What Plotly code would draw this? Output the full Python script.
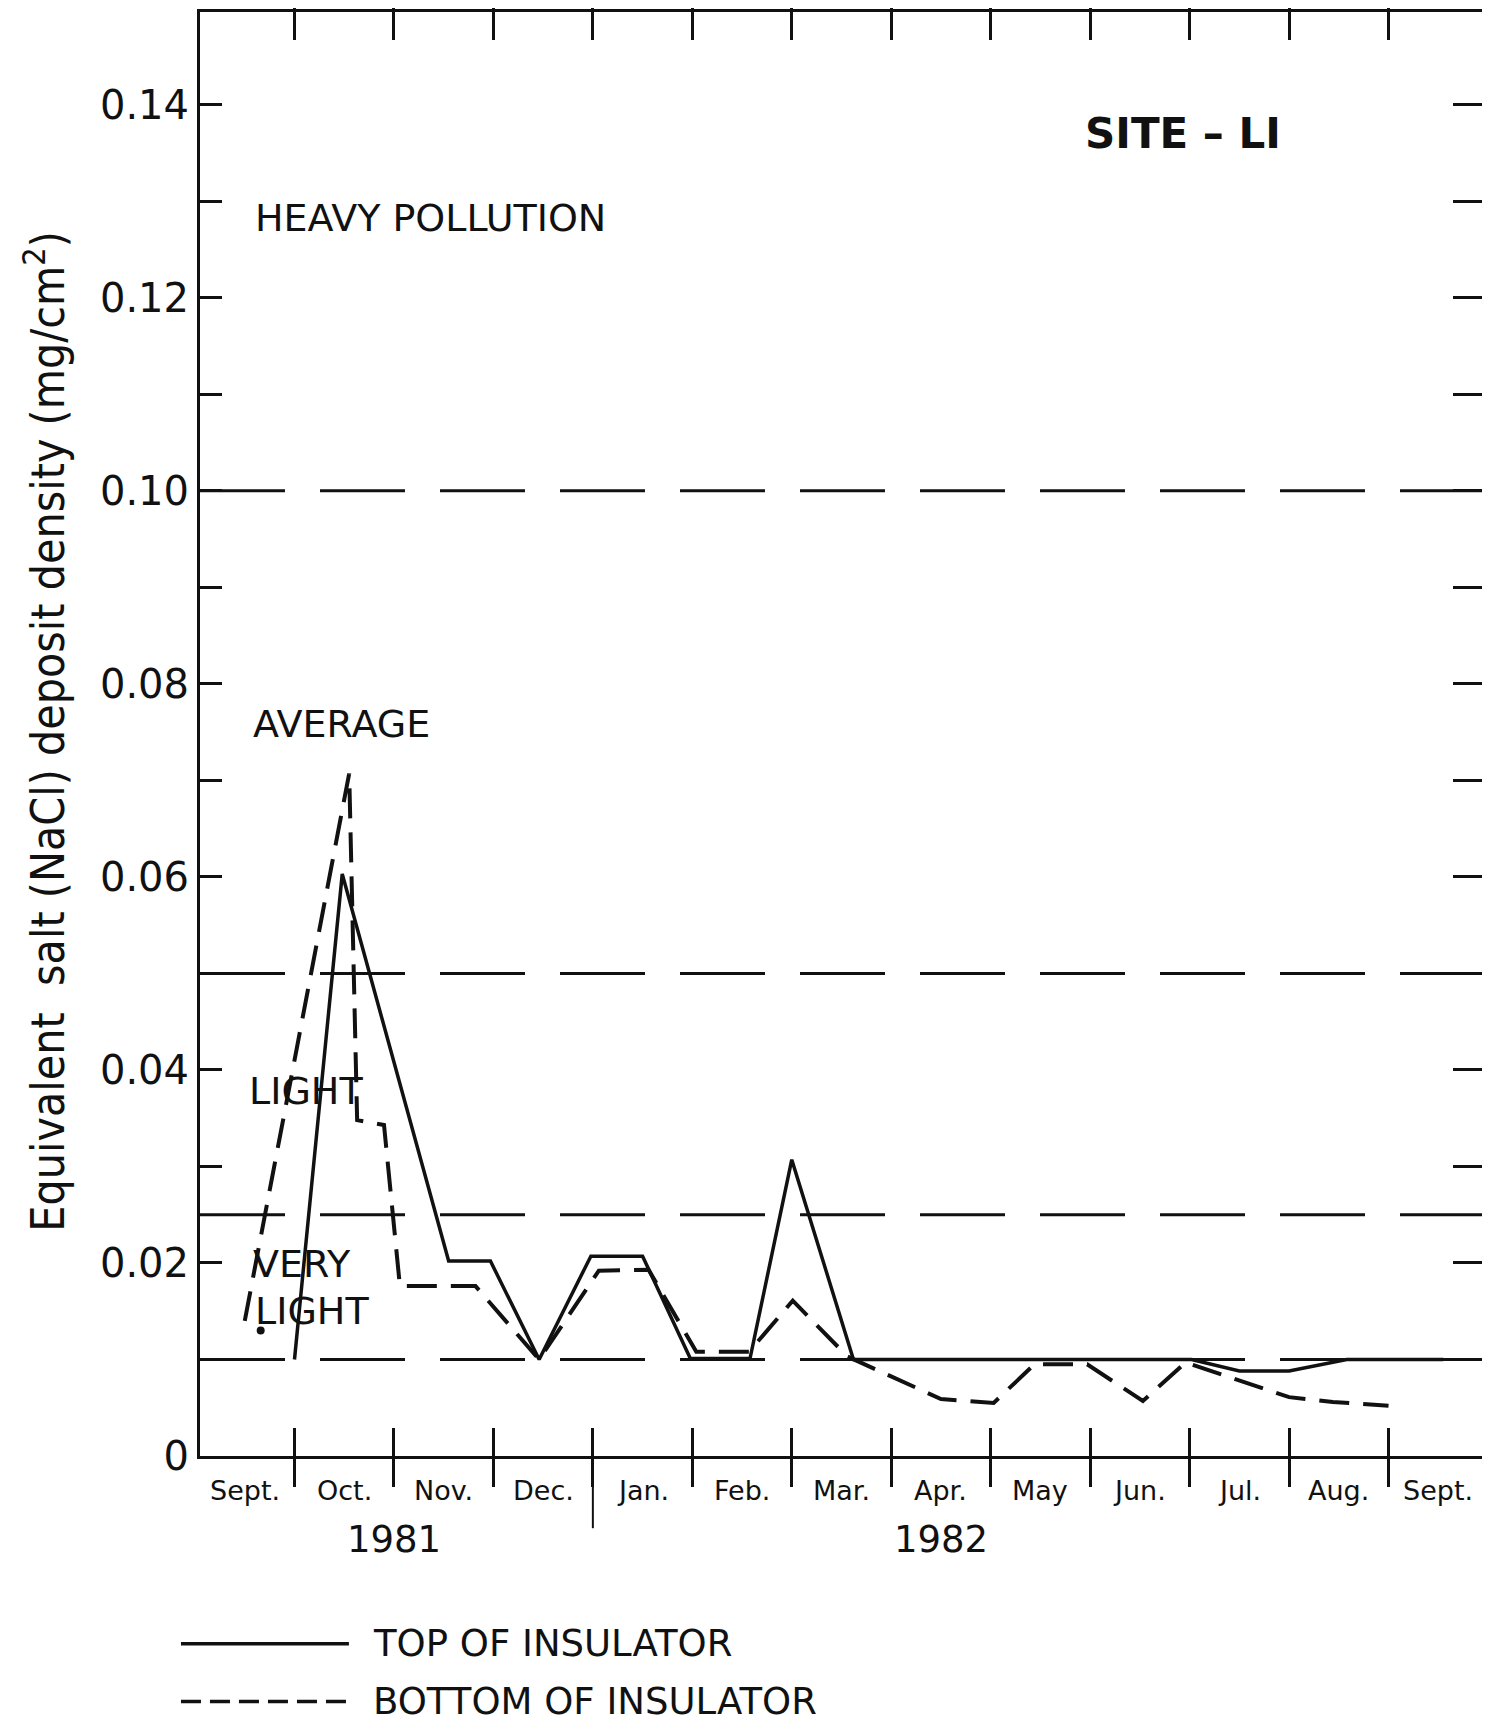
import plotly.graph_objects as go

# ---------------- data ----------------
# x = months counted from 1 Oct 1981 (tick marks at month boundaries)
month_labels = ["Sept.", "Oct.", "Nov.", "Dec.", "Jan.", "Feb.", "Mar.",
                "Apr.", "May", "Jun.", "Jul.", "Aug.", "Sept."]
month_centers = [-0.5, 0.5, 1.5, 2.5, 3.5, 4.5, 5.5, 6.5, 7.5, 8.5, 9.5, 10.5, 11.5]
month_boundaries = [0, 1, 2, 3, 4, 5, 6, 7, 8, 9, 10, 11]
year_labels = ["1981", "1982"]
year_centers = [1.0, 6.5]
year_divider = [3]

top_x = [0.00, 0.48, 1.55, 1.97, 2.46, 2.98, 3.50, 3.98, 4.58, 5.00, 5.62,
         9.02, 9.50, 10.00, 10.58, 11.55]
top_y = [0.0100, 0.0603, 0.0202, 0.0202, 0.0100, 0.0207, 0.0207, 0.0101, 0.0101,
         0.0307, 0.0100, 0.0100, 0.0088, 0.0088, 0.0100, 0.0100]

bottom_x = [-0.50, 0.55, 0.63, 0.90, 1.06, 1.82, 2.46, 3.06, 3.56, 4.04, 4.57,
            5.01, 5.56, 6.50, 7.03, 7.44, 7.97, 8.53, 8.96, 10.00, 10.44, 11.00]
bottom_y = [0.0140, 0.0707, 0.0348, 0.0343, 0.0176, 0.0176, 0.0100, 0.0192, 0.0193,
            0.0108, 0.0108, 0.0161, 0.0103, 0.0059, 0.0055, 0.0095, 0.0095, 0.0057,
            0.0097, 0.0061, 0.0056, 0.0052]

dot_x = [-0.34]
dot_y = [0.0130]

threshold_levels = [0.10, 0.05, 0.025, 0.01]
zone_labels = ["HEAVY POLLUTION", "AVERAGE", "LIGHT", "VERY", "LIGHT"]
zone_label_x = [-0.42, -0.44, -0.48, -0.44, -0.42]
zone_label_y = [0.1283, 0.0758, 0.0378, 0.0199, 0.0150]

y_major_vals = [0.00, 0.02, 0.04, 0.06, 0.08, 0.10, 0.12, 0.14]
y_major_text = ["0", "0.02", "0.04", "0.06", "0.08", "0.10", "0.12", "0.14"]
y_minor_vals = [0.01, 0.03, 0.05, 0.07, 0.09, 0.11, 0.13]
y_all_vals = [0.00, 0.01, 0.02, 0.03, 0.04, 0.05, 0.06, 0.07, 0.08, 0.09,
              0.10, 0.11, 0.12, 0.13, 0.14]

FONT = "DejaVu Sans"
INK = "#111111"

fig = go.Figure()

fig.add_trace(go.Scatter(
    x=top_x, y=top_y, mode="lines", name="TOP OF INSULATOR",
    line=dict(color=INK, width=3.5), showlegend=False))
fig.add_trace(go.Scatter(
    x=bottom_x, y=bottom_y, mode="lines", name="BOTTOM OF INSULATOR",
    line=dict(color=INK, width=4, dash="30px,14px"), showlegend=False))
fig.add_trace(go.Scatter(
    x=dot_x, y=dot_y, mode="markers", showlegend=False,
    marker=dict(color=INK, size=8)))
# helper trace so the right-hand tick axis exists
fig.add_trace(go.Scatter(x=[None], y=[None], yaxis="y2", showlegend=False,
                         hoverinfo="skip"))

# threshold dashed lines
for lvl in threshold_levels:
    fig.add_shape(type="line", xref="paper", yref="y", x0=0, x1=1, y0=lvl, y1=lvl,
                  line=dict(color=INK, width=3, dash="85px,35px"))

# year divider
for xv in year_divider:
    fig.add_shape(type="line", xref="x", yref="paper", x0=xv, x1=xv, y0=0, y1=-0.05,
                  line=dict(color=INK, width=2))

annotations = []
for lab, xc in zip(month_labels, month_centers):
    annotations.append(dict(x=xc, y=-0.0242, xref="x", yref="paper", text=lab,
                            showarrow=False, xanchor="center", yanchor="middle",
                            font=dict(family=FONT, size=27, color=INK)))
for lab, xc in zip(year_labels, year_centers):
    annotations.append(dict(x=xc, y=-0.058, xref="x", yref="paper", text=lab,
                            showarrow=False, xanchor="center", yanchor="middle",
                            font=dict(family=FONT, size=37, color=INK)))
for lab, xv, yv in zip(zone_labels, zone_label_x, zone_label_y):
    annotations.append(dict(x=xv, y=yv, xref="x", yref="y", text=lab,
                            showarrow=False, xanchor="left", yanchor="middle",
                            font=dict(family=FONT, size=38, color=INK)))
annotations.append(dict(x=8.93, y=0.137, xref="x", yref="y", text="<b>SITE – LI</b>",
                        showarrow=False, xanchor="center", yanchor="middle",
                        font=dict(family=FONT, size=42, color=INK)))
annotations.append(dict(x=-0.1212, y=0.5017, xref="paper", yref="paper",
                        text="Equivalent  salt (NaCl) deposit density (mg/cm<sup>2</sup>)",
                        textangle=-90, showarrow=False, xanchor="center", yanchor="middle",
                        font=dict(family="DejaVu Sans Condensed, DejaVu Sans", size=46, color=INK)))

# manual legend
legend_items = [("TOP OF INSULATOR", "solid", -0.130),
                ("BOTTOM OF INSULATOR", "20px,9px", -0.170)]
for txt, dash, yp in legend_items:
    fig.add_shape(type="line", xref="paper", yref="paper", x0=-0.0148, x1=0.1158,
                  y0=yp, y1=yp, line=dict(color=INK, width=3.5, dash=dash))
    annotations.append(dict(x=0.1329, y=yp, xref="paper", yref="paper", text=txt,
                            showarrow=False, xanchor="left", yanchor="middle",
                            font=dict(family=FONT, size=37, color=INK)))

fig.update_layout(
    width=1482, height=1715,
    margin=dict(l=192, r=3, t=1, b=267),
    paper_bgcolor="white", plot_bgcolor="white",
    showlegend=False,
    annotations=annotations,
    xaxis=dict(range=[-0.95, 11.98], tickvals=month_boundaries, showticklabels=False,
               ticks="inside", ticklen=28, tickwidth=2.5, tickcolor=INK,
               showline=True, linewidth=3, linecolor=INK, mirror="allticks",
               showgrid=False, zeroline=False),
    yaxis=dict(range=[0, 0.1496], tickvals=y_major_vals, ticktext=y_major_text,
               ticks="inside", ticklen=22, tickwidth=2.5, tickcolor=INK,
               minor=dict(tickvals=y_minor_vals, ticks="inside", ticklen=22,
                          tickwidth=2.5, tickcolor=INK, showgrid=False),
               showline=True, linewidth=3, linecolor=INK, mirror=True,
               showgrid=False, zeroline=False,
               tickfont=dict(family=FONT, size=40, color=INK)),
    yaxis2=dict(range=[0, 0.1496], overlaying="y", side="right", tickvals=y_all_vals,
                showticklabels=False, ticks="inside", ticklen=33, tickwidth=2.5,
                tickcolor=INK, showline=False, showgrid=False, zeroline=False),
)

fig.write_html("out.html")
